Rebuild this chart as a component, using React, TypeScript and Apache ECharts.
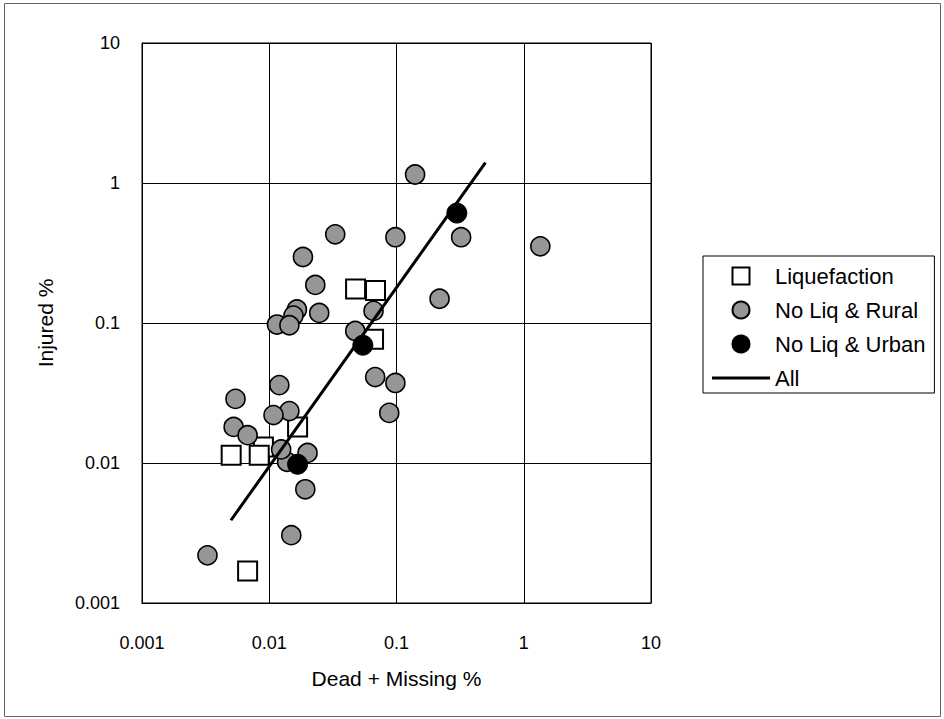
import React, { useEffect, useRef } from "react";
import * as echarts from "echarts";

// Liquefaction: [Dead + Missing %, Injured %]
const liquefaction: [number, number][] = [
  [0.0477, 0.175],
  [0.0684, 0.171],
  [0.066, 0.0766],
  [0.0167, 0.0181],
  [0.009, 0.013],
  [0.00502, 0.01135],
  [0.00834, 0.01135],
  [0.00676, 0.00169],
];

const noLiqRural: [number, number][] = [
  [0.14, 1.15],
  [0.322, 0.41],
  [0.033, 0.43],
  [0.098, 0.41],
  [0.0184, 0.296],
  [0.023, 0.187],
  [0.218, 0.149],
  [0.066, 0.122],
  [0.0247, 0.118],
  [0.0165, 0.125],
  [0.0155, 0.113],
  [0.0115, 0.0975],
  [0.0144, 0.0964],
  [0.0474, 0.0877],
  [0.068, 0.0411],
  [0.098, 0.0373],
  [0.0877, 0.0228],
  [0.012, 0.036],
  [0.00543, 0.0287],
  [0.0144, 0.0235],
  [0.0108, 0.022],
  [0.00525, 0.0181],
  [0.00676, 0.0158],
  [0.0138, 0.0102],
  [0.0124, 0.0125],
  [0.02, 0.0118],
  [0.0192, 0.00649],
  [0.0149, 0.00305],
  [0.00327, 0.00219],
  [1.35, 0.353],
];

const noLiqUrban: [number, number][] = [
  [0.298, 0.61],
  [0.0544, 0.0694],
  [0.0167, 0.0098],
];

// Trend line "All" (fit end points)
const allFit: [number, number][] = [
  [0.005, 0.0039],
  [0.5, 1.4],
];

const xTickLabels = ["0.001", "0.01", "0.1", "1", "10"];
const yTickLabels = ["0.001", "0.01", "0.1", "1", "10"];

const FONT = "Liberation Sans, Arial, sans-serif";

const tickLabel = (labels: string[]) => (v: number) => {
  const i = Math.round(Math.log10(v)) + 3;
  return labels[i] ?? "";
};

export default function App() {
  const ref = useRef<HTMLDivElement>(null);

  useEffect(() => {
    if (!ref.current) return;
    const chart = echarts.init(ref.current, undefined, { renderer: "svg" });
    chart.setOption({
      animation: false,
      backgroundColor: "#ffffff",
      textStyle: { fontFamily: FONT, color: "#000" },
      graphic: [
        {
          type: "rect",
          silent: true,
          shape: { x: 4.5, y: 3.5, width: 936, height: 713 },
          style: { fill: "none", stroke: "#666", lineWidth: 1 },
        },
      ],
      grid: {
        left: 142,
        top: 43,
        width: 509,
        height: 560,
        show: true,
        borderColor: "#000",
        borderWidth: 1,
        backgroundColor: "transparent",
      },
      legend: {
        orient: "vertical",
        left: 703,
        top: 256,
        padding: [9, 9, 4, 9],
        itemGap: 12,
        itemWidth: 58,
        itemHeight: 17,
        borderColor: "#000",
        borderWidth: 1,
        symbolKeepAspect: true,
        textStyle: { fontFamily: FONT, fontSize: 22, color: "#000" },
        data: [
          { name: "Liquefaction", icon: "path://M0,0H16V16H0Z" },
          { name: "No Liq & Rural", icon: "circle" },
          { name: "No Liq & Urban", icon: "circle" },
          {
            name: "All",
            icon: "path://M0,0H58V3H0Z",
            itemStyle: { color: "#000", borderWidth: 0 },
          },
        ],
      },
      xAxis: {
        type: "log",
        logBase: 10,
        min: 0.001,
        max: 10,
        name: "Dead + Missing %",
        nameLocation: "middle",
        nameGap: 65,
        nameTextStyle: { fontFamily: FONT, fontSize: 21, color: "#000" },
        axisLine: { show: true, lineStyle: { color: "#000", width: 1 } },
        axisTick: { show: false },
        minorTick: { show: false },
        axisLabel: {
          margin: 31,
          fontSize: 18,
          fontFamily: FONT,
          color: "#000",
          formatter: tickLabel(xTickLabels),
        },
        splitLine: { show: true, lineStyle: { color: "#000", width: 1 } },
      },
      yAxis: {
        type: "log",
        logBase: 10,
        min: 0.001,
        max: 10,
        name: "Injured %",
        nameLocation: "middle",
        nameGap: 86,
        nameTextStyle: { fontFamily: FONT, fontSize: 21, color: "#000" },
        axisLine: { show: true, lineStyle: { color: "#000", width: 1 } },
        axisTick: { show: false },
        minorTick: { show: false },
        axisLabel: {
          margin: 22,
          fontSize: 18,
          fontFamily: FONT,
          color: "#000",
          padding: [4, 0, 0, 0],
          formatter: tickLabel(yTickLabels),
        },
        splitLine: { show: true, lineStyle: { color: "#000", width: 1 } },
      },
      series: [
        {
          name: "Liquefaction",
          type: "scatter",
          symbol: "rect",
          symbolSize: 19,
          z: 2,
          itemStyle: { color: "#ffffff", borderColor: "#000", borderWidth: 2, opacity: 1 },
          data: liquefaction,
        },
        {
          name: "No Liq & Rural",
          type: "scatter",
          symbol: "circle",
          symbolSize: 19,
          z: 3,
          itemStyle: { color: "#969696", borderColor: "#000", borderWidth: 1.6, opacity: 1 },
          data: noLiqRural,
        },
        {
          name: "All",
          type: "line",
          symbol: "none",
          showSymbol: false,
          z: 4,
          lineStyle: { color: "#000", width: 3 },
          itemStyle: { color: "#000" },
          data: allFit,
        },
        {
          name: "No Liq & Urban",
          type: "scatter",
          symbol: "circle",
          symbolSize: 20,
          z: 5,
          itemStyle: { color: "#000", borderColor: "#000", borderWidth: 1, opacity: 1 },
          data: noLiqUrban,
        },
      ],
    });
    return () => chart.dispose();
  }, []);

  return (
    <div
      ref={ref}
      style={{ position: "absolute", left: 0, top: 0, width: 944, height: 719 }}
    />
  );
}
